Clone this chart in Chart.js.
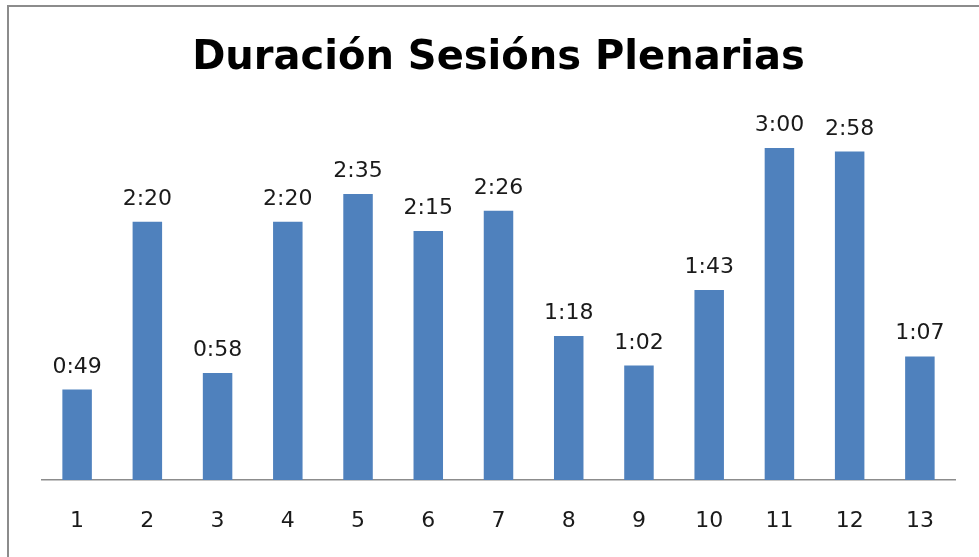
<!DOCTYPE html>
<html>
<head>
<meta charset="utf-8">
<script src="https://cdn.jsdelivr.net/npm/chart.js@4"></script>
<style>
  html, body { margin: 0; padding: 0; background: #fff; }
  #wrap {
    position: absolute; left: 7px; top: 5px;
    width: 972px; height: 552px;
    border-top: 2px solid #8c8c8c; border-left: 2px solid #8c8c8c;
  }
  #myChart { display: block; }
</style>
</head>
<body>
<div id="wrap"><canvas id="myChart" width="970" height="550"></canvas></div>
<script>
// sessions and duration in minutes
const sessions = ["1", "2", "3", "4", "5", "6", "7", "8", "9", "10", "11", "12", "13"];
const minutes = [49, 140, 58, 140, 155, 135, 146, 78, 62, 103, 180, 178, 67];

function toClock(m) {
  const h = Math.floor(m / 60);
  const mm = m % 60;
  return h + ":" + (mm < 10 ? "0" + mm : mm);
}

// labels over each bar
const barLabels = {
  id: "barLabels",
  afterDatasetsDraw(chart) {
    const ctx = chart.ctx;
    const meta = chart.getDatasetMeta(0);
    ctx.save();
    ctx.font = "22px 'DejaVu Sans'";
    ctx.fillStyle = "#1a1a1a";
    ctx.textAlign = "center";
    ctx.textBaseline = "alphabetic";
    meta.data.forEach((bar, i) => {
      ctx.fillText(toClock(minutes[i]), bar.x, bar.y - 17);
    });
    ctx.restore();
  }
};

const data = {
  labels: sessions,
  datasets: [
    {
      label: "Duración",
      backgroundColor: "#4f81bd",
      borderColor: "#4f81bd",
      data: minutes,
      barPercentage: 0.42,
      categoryPercentage: 1
    }
  ]
};

const config = {
  type: "bar",
  data: data,
  plugins: [barLabels],
  options: {
    responsive: false,
    animation: false,
    layout: { padding: { left: 33, right: 24, top: 0, bottom: 0 } },
    plugins: {
      legend: { display: false },
      tooltip: { enabled: false },
      title: {
        display: true,
        text: "Duración Sesións Plenarias",
        color: "#000",
        font: { family: "'DejaVu Sans'", size: 40, weight: "bold" },
        padding: { top: 28, bottom: 28 }
      }
    },
    scales: {
      y: { display: false, min: 0, max: 200 },
      x: {
        grid: { display: false },
        border: { display: true, color: "#8c8c8c", width: 1.5 },
        afterFit(scale) { scale.height = 77; },
        ticks: {
          color: "#1a1a1a",
          padding: 20,
          font: { family: "'DejaVu Sans'", size: 22 }
        }
      }
    }
  }
};

const myChart = new Chart(document.getElementById("myChart"), config);
</script>
</body>
</html>
